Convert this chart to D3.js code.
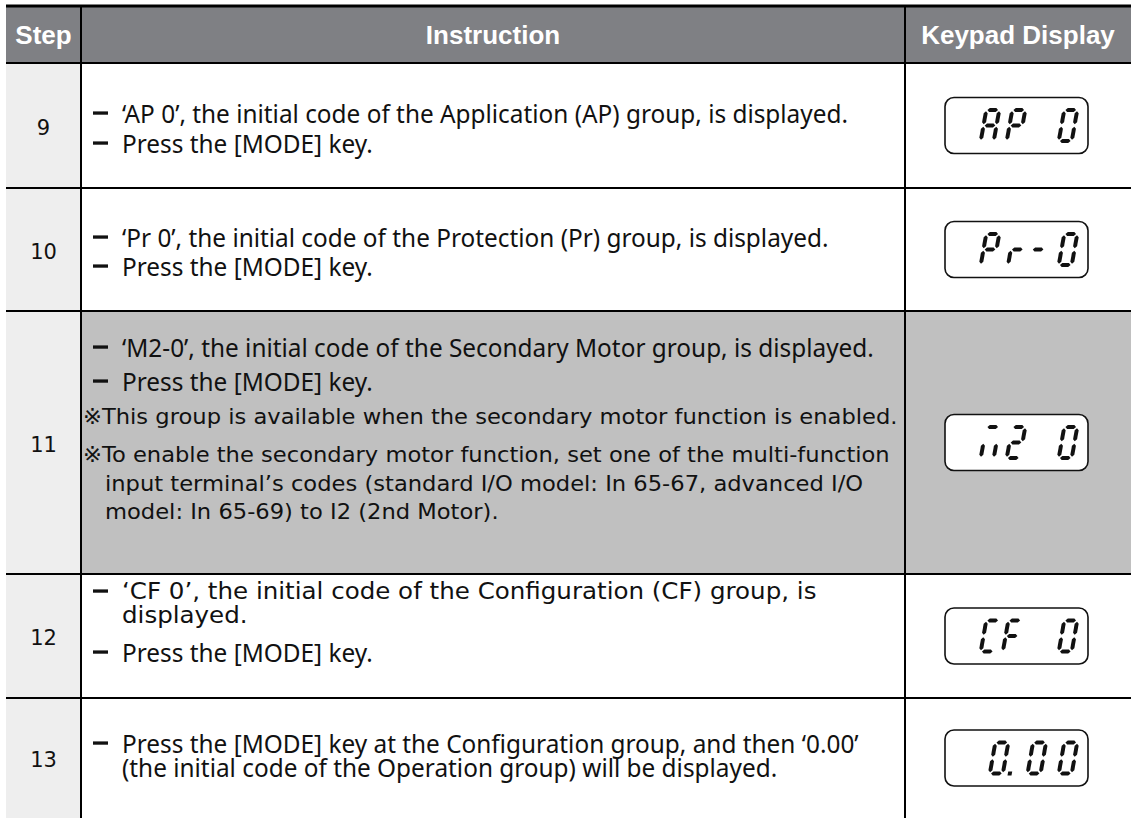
<!DOCTYPE html>
<html><head><meta charset="utf-8">
<script src="https://cdn.jsdelivr.net/npm/d3@7"></script>
<style>body{margin:0;background:#fff}svg{display:block}</style>
</head><body><svg id="c" width="1131" height="818"></svg>
<script>
// ---------- data ----------
const headers = ["Step", "Instruction", "Keypad Display"];
const steps = ["9", "10", "11", "12", "13"];
// [bullet kind, font style, text]
const instr9  = [["dash", "cond", "‘AP 0’, the initial code of the Application (AP) group, is displayed."], ["dash", "cond", "Press the [MODE] key."]];
const instr10 = [["dash", "cond", "‘Pr 0’, the initial code of the Protection (Pr) group, is displayed."], ["dash", "cond", "Press the [MODE] key."]];
const instr11 = [["dash", "cond", "‘M2-0’, the initial code of the Secondary Motor group, is displayed."], ["dash", "cond", "Press the [MODE] key."],
                 ["note", "note", "※This group is available when the secondary motor function is enabled."],
                 ["note", "note", "※To enable the secondary motor function, set one of the multi-function"],
                 ["cont", "note", "input terminal’s codes (standard I/O model: In 65-67, advanced I/O"],
                 ["cont", "note", "model: In 65-69) to I2 (2nd Motor)."]];
const instr12 = [["dash", "wide", "‘CF 0’, the initial code of the Configuration (CF) group, is"], ["wrap", "wide", "displayed."], ["dash", "cond", "Press the [MODE] key."]];
const instr13 = [["dash", "cond", "Press the [MODE] key at the Configuration group, and then ‘0.00’"], ["wrap", "cond", "(the initial code of the Operation group) will be displayed."]];
const instructions = [instr9, instr10, instr11, instr12, instr13];
// keypad display characters and slot index (0..3)
const disp9  = [["A", 0], ["P", 1], ["0", 3]];
const disp10 = [["P", 0], ["r", 1.05], ["-", 1.85], ["0", 3]];
const disp11 = [["m", 0], ["2", 1], ["0", 3]];
const disp12 = [["C", 0], ["F", 0.85], ["0", 3]];
const disp13 = [["0.", 0.35], ["0", 1.8], ["0", 3]];
const displays = [disp9, disp10, disp11, disp12, disp13];
const shadedRow = "11";

// ---------- layout ----------
const W = 1131, H = 818;
const rowTops = [63, 188, 311, 574, 698, 818];
const colX = [6, 81, 905, 1131];
const lineOffsets = [[50, 80], [49, 78], [36, 70, 106, 144, 173, 201], [17, 41, 78], [45, 69]];
// reference widths of lines (null = follow the style's fitted compression)
const lineWidths = [[740, null], [730, null], [758, null, 797, 800, 763, 413], [710, 110, null], [718, 630]];
const segMap = {
  "A": "abcefg", "P": "abefg", "0": "abcdef", "r": "eg", "-": "g",
  "C": "adef", "F": "aefg", "2": "abdeg", "m": "ace"
};
const fonts = {
  cond: { family: "Noto Sans, sans-serif", size: 24.5 },
  note: { family: "DejaVu Sans, Verdana, sans-serif", size: 20.5 },
  wide: { family: "DejaVu Sans, Verdana, sans-serif", size: 22.5 }
};

const svg = d3.select("#c");
const x = d3.scaleOrdinal().domain(headers).range(colX.slice(0, 3));
const colW = h => colX[headers.indexOf(h) + 1] - x(h);
const y = d3.scaleOrdinal().domain(steps).range(rowTops.slice(0, 5));
const rowH = s => rowTops[steps.indexOf(s) + 1] - y(s);

// header
svg.append("rect").attr("x", colX[0]).attr("y", 7).attr("width", W - colX[0]).attr("height", rowTops[0] - 7).attr("fill", "#7f8084");
svg.selectAll("text.h").data(headers).join("text").attr("class", "h")
  .attr("x", d => x(d) + colW(d) / 2).attr("y", 35)
  .attr("text-anchor", "middle").attr("dominant-baseline", "central")
  .attr("font-family", "Liberation Sans, Arial, sans-serif").attr("font-weight", "bold")
  .attr("font-size", 26).attr("fill", "#fff").text(d => d);

// body backgrounds
svg.selectAll("rect.step").data(steps).join("rect").attr("class", "step")
  .attr("x", colX[0]).attr("y", d => y(d)).attr("width", colW("Step")).attr("height", d => rowH(d)).attr("fill", "#eeeeee");
svg.selectAll("rect.shade").data(steps.filter(s => s === shadedRow)).join("rect").attr("class", "shade")
  .attr("x", colX[1]).attr("y", d => y(d)).attr("width", W - colX[1]).attr("height", d => rowH(d)).attr("fill", "#c0c0c0");

// step numbers
svg.selectAll("text.num").data(steps).join("text").attr("class", "num")
  .attr("x", x("Step") + colW("Step") / 2).attr("y", d => y(d) + rowH(d) / 2 + 2)
  .attr("text-anchor", "middle").attr("dominant-baseline", "central")
  .attr("font-family", "DejaVu Sans, Verdana, sans-serif").attr("font-size", 21).attr("fill", "#111").text(d => d);

// instructions
const textNodes = { cond: [], note: [], wide: [] };
steps.forEach((s, i) => {
  const g = svg.append("g");
  instructions[i].forEach((ln, j) => {
    const [kind, style, txt] = ln;
    const cy = y(s) + lineOffsets[i][j];
    const tx = kind === "note" ? 83 : kind === "cont" ? 105 : 122;
    if (kind === "dash") {
      g.append("rect").attr("x", 93).attr("y", cy - 1.6).attr("width", 15).attr("height", 3.3).attr("fill", "#111");
    }
    const t = g.append("text").attr("x", tx).attr("y", cy)
      .attr("dominant-baseline", "central")
      .attr("font-family", fonts[style].family)
      .attr("font-size", fonts[style].size).attr("fill", "#111")
      .text(txt);
    textNodes[style].push({ node: t, target: lineWidths[i][j] });
  });
});
// uniform horizontal compression per font style, fitted to the reference widths
Object.values(textNodes).forEach(list => {
  const nat = list.map(d => d.node.node().getComputedTextLength());
  const fit = list.map((d, i) => [d.target, nat[i]]).filter(p => p[0] != null);
  const k = d3.sum(fit, p => p[0]) / d3.sum(fit, p => p[1]);
  list.forEach((d, i) => d.node.attr("textLength", nat[i] * k).attr("lengthAdjust", "spacingAndGlyphs"));
});

// keypad displays
const slotX = d3.scaleLinear().domain([0, 3]).range([990, 1068]);
const DW = 17, DH = 35, T = 4, gp = 1.2, skew = -10;
function hSeg(yc) {
  return [[gp + T / 2, yc], [gp + T, yc - T / 2], [DW - gp - T, yc - T / 2], [DW - gp - T / 2, yc], [DW - gp - T, yc + T / 2], [gp + T, yc + T / 2]];
}
function vSeg(xc, y1, y2) {
  return [[xc, y1 + gp], [xc + T / 2, y1 + gp + T / 2], [xc + T / 2, y2 - gp - T / 2], [xc, y2 - gp], [xc - T / 2, y2 - gp - T / 2], [xc - T / 2, y1 + gp + T / 2]];
}
const segs = {
  a: hSeg(T / 2), g: hSeg(DH / 2), d: hSeg(DH - T / 2),
  f: vSeg(T / 2, T / 2, DH / 2), b: vSeg(DW - T / 2, T / 2, DH / 2),
  e: vSeg(T / 2, DH / 2, DH - T / 2), c: vSeg(DW - T / 2, DH / 2, DH - T / 2)
};
const boxW = 143, boxH = 56, boxX = 945;
steps.forEach((s, i) => {
  const cy = y(s) + rowH(s) / 2;
  svg.append("rect").attr("x", boxX).attr("y", cy - boxH / 2).attr("width", boxW).attr("height", boxH)
    .attr("rx", 9).attr("fill", "#fff").attr("stroke", "#111").attr("stroke-width", 1.6);
  displays[i].forEach(([ch, slot]) => {
    const base = ch.replace(".", "");
    const cx = slotX(slot);
    const dg = svg.append("g").attr("transform",
      `translate(${cx - DW / 2 + Math.tan(-skew * Math.PI / 180) * DH / 2},${cy - DH / 2}) skewX(${skew})`);
    segMap[base].split("").forEach(k => {
      dg.append("polygon").attr("points", segs[k].map(p => p.join(",")).join(" ")).attr("fill", "#111");
    });
    if (ch.includes(".")) {
      dg.append("rect").attr("x", DW + 3).attr("y", DH - T).attr("width", T).attr("height", T).attr("fill", "#111");
    }
  });
});

// grid lines
svg.append("line").attr("x1", colX[0]).attr("x2", W).attr("y1", 6).attr("y2", 6).attr("stroke", "#000").attr("stroke-width", 3);
svg.selectAll("line.hr").data(rowTops.slice(0, 5)).join("line").attr("class", "hr")
  .attr("x1", colX[0]).attr("x2", W).attr("y1", d => d).attr("y2", d => d).attr("stroke", "#000").attr("stroke-width", 2.2);
svg.selectAll("line.vr").data(colX.slice(1, 3)).join("line").attr("class", "vr")
  .attr("x1", d => d).attr("x2", d => d).attr("y1", 7).attr("y2", H).attr("stroke", "#000").attr("stroke-width", 2);
</script></body></html>
